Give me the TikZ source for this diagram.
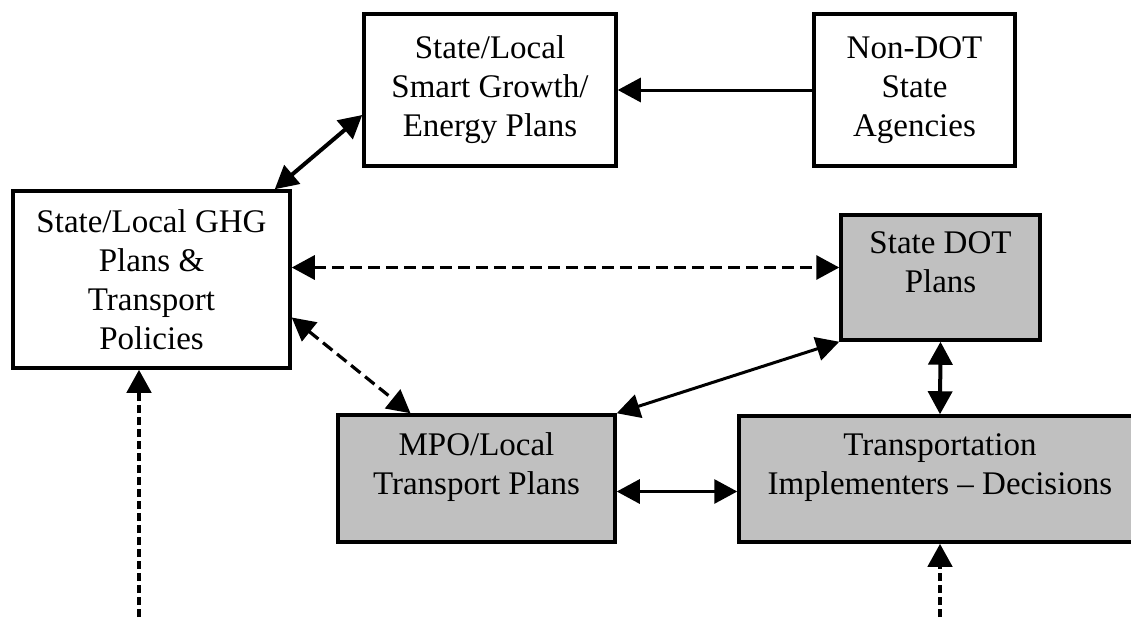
\documentclass[tikz,border=0pt]{standalone}
\usepackage{fontspec}
\setmainfont{Liberation Serif}
\usepackage{xcolor}
\usetikzlibrary{arrows.meta}
\definecolor{planfill}{HTML}{C0C0C0}

\begin{document}
\begin{tikzpicture}[x=0.5pt, y=-0.5pt,
    >={Triangle[length=11.5pt,width=12pt]},
    box/.style={draw, line width=1.75pt, align=center, inner sep=0pt,
        font=\fontsize{16.5}{19.5}\selectfont},
    plan/.style={box, fill=planfill, text depth=15pt},
    link/.style={line width=1.5pt},
    dashlink/.style={line width=1.6pt, dash pattern=on 6pt off 3pt},
    feed/.style={line width=2.25pt, dash pattern=on 4pt off 2pt}]
    \useasboundingbox (0,0) rectangle (1131,622);

    % Top row of boxes
    \node[box, minimum width=126pt, minimum height=76pt] (growth) at (490,90)
        {State/Local\\Smart Growth/\\Energy Plans};
    \node[box, minimum width=100.5pt, minimum height=76pt] (nondot) at (914.5,90)
        {Non-DOT\\State\\Agencies};

    % GHG plans on the left
    \node[box, minimum width=138.5pt, minimum height=88.5pt] (ghg) at (151.5,279.5)
        {State/Local GHG\\Plans \&\\Transport\\Policies};

    % Grey planning boxes
    \node[plan, minimum width=99.5pt, minimum height=62.5pt] (dot) at (940.5,277.5)
        {State DOT\\Plans};
    \node[plan, minimum width=138.5pt, minimum height=63.5pt] (mpo) at (476.5,478.5)
        {MPO/Local\\Transport Plans};
    \node[plan, minimum width=201pt, minimum height=63pt] (impl) at (940,479)
        {Transportation\\Implementers -- Decisions};

    % Free ends of the incoming lines
    \coordinate (ghgin) at (139,617);
    \coordinate (implin) at (940,617);

    % Solid links
    \draw[link, ->] (nondot) -- (growth);
    \draw[link, line width=2pt, <->] ([xshift=-8.5pt]ghg.north east) -- ([yshift=-12.5pt]growth.west);
    \draw[link, <->] (mpo.north east) -- (dot.south west);
    \draw[link, line width=2pt, <->] (dot.south) -- (impl.north);
    \draw[link, <->] ([yshift=-6.5pt]mpo.east) -- ([yshift=-6.5pt]mpo.east -| impl.west);

    % Dashed links
    \draw[dashlink, <->] ([yshift=6pt]ghg.east) -- ([yshift=6pt]ghg.east -| dot.west);
    \draw[dashlink, <->] ([yshift=-19pt]ghg.east) -- ([xshift=-33pt]mpo.north);

    % Incoming from below
    \draw[feed, ->] (ghgin) -- (ghgin |- ghg.south);
    \draw[feed, ->] (implin) -- (impl.south);
\end{tikzpicture}
\end{document}
